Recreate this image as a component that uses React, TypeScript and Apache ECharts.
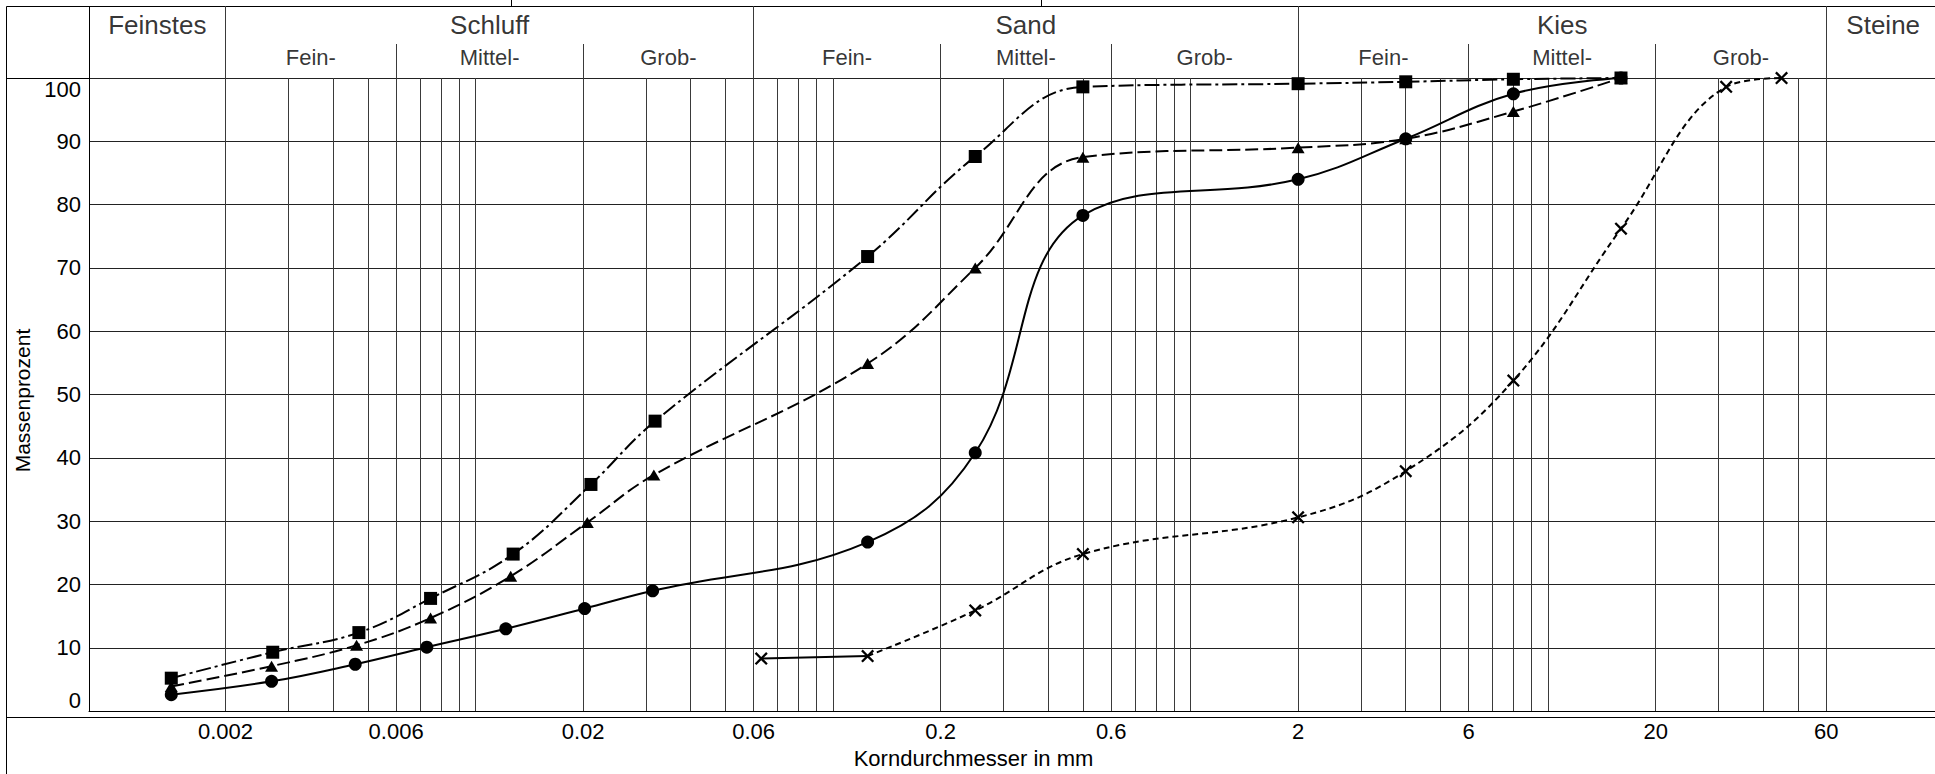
import React, { useEffect, useRef } from 'react';
import * as echarts from 'echarts';

const FONT = '"Liberation Sans", Arial, Helvetica, sans-serif';

// axis range (mm)
const X_MIN = 0.00083;
const X_MAX = 120.9;

// tick labels and grid lines
const labelTicks = [0.002, 0.006, 0.02, 0.06, 0.2, 0.6, 2, 6, 20, 60];
const gridTicks = [
  0.002, 0.003, 0.004, 0.005, 0.006, 0.007, 0.008, 0.009, 0.01,
  0.02, 0.03, 0.04, 0.05, 0.06, 0.07, 0.08, 0.09, 0.1,
  0.2, 0.3, 0.4, 0.5, 0.6, 0.7, 0.8, 0.9, 1,
  2, 3, 4, 5, 6, 7, 8, 9, 10,
  20, 30, 40, 50, 60,
];
const mainBounds = [0.00083, 0.002, 0.06, 2, 60, 125];
const mainNames = ['Feinstes', 'Schluff', 'Sand', 'Kies', 'Steine'];
const subBounds = [0.002, 0.006, 0.02, 0.06, 0.2, 0.6, 2, 6, 20, 60];
const subNames = ['Fein-', 'Mittel-', 'Grob-', 'Fein-', 'Mittel-', 'Grob-', 'Fein-', 'Mittel-', 'Grob-'];
const majorTicks = [0.002, 0.06, 2, 60];

// series (x in mm, y in %)
const circleX = [0.00141, 0.00269, 0.00461, 0.00731, 0.01216, 0.0202, 0.0313, 0.125, 0.25, 0.5, 2, 4, 8, 16];
const circleY = [2.6, 4.7, 7.4, 10.1, 13.0, 16.2, 19.0, 26.7, 40.8, 78.3, 84.0, 90.4, 97.5, 100];

const triangleX = [0.00141, 0.00269, 0.00465, 0.00749, 0.01255, 0.02055, 0.03155, 0.125, 0.25, 0.5, 2, 4, 8, 16];
const triangleY = [3.9, 7.1, 10.4, 14.7, 21.3, 29.8, 37.3, 54.9, 70.0, 87.5, 89.0, 90.4, 94.7, 100];

const squareX = [0.00141, 0.00271, 0.00472, 0.00749, 0.01275, 0.02104, 0.0318, 0.125, 0.25, 0.5, 2, 4, 8, 16];
const squareY = [5.2, 9.3, 12.4, 17.8, 24.8, 35.8, 45.8, 71.8, 87.6, 98.6, 99.1, 99.4, 99.8, 100];

const crossX = [0.063, 0.125, 0.25, 0.5, 2, 4, 8, 16, 31.5, 45];
const crossY = [8.3, 8.7, 15.9, 24.8, 30.6, 37.9, 52.2, 76.2, 98.6, 100];

const CROSS =
  'path://M1.5,0 L6,4.5 L10.5,0 L12,1.5 L7.5,6 L12,10.5 L10.5,12 L6,7.5 L1.5,12 L0,10.5 L4.5,6 L0,1.5 Z';

const fmt = (v: number) => String(Number(v.toPrecision(6)));
const geo = (a: number, b: number) => Math.sqrt(a * b);

function lineSeries(
  xs: number[],
  ys: number[],
  symbol: string,
  size: number | number[],
  dash: any,
  smooth: number
) {
  return {
    type: 'line',
    xAxisIndex: 0,
    yAxisIndex: 0,
    data: xs.map((x, i) => [x, ys[i]]),
    smooth,
    symbol,
    symbolSize: size,
    showAllSymbol: true,
    lineStyle: { color: '#000', width: 2, type: dash },
    itemStyle: { color: '#000', opacity: 1 },
    emphasis: { disabled: true },
    silent: true,
  };
}

export default function App() {
  const ref = useRef<HTMLDivElement>(null);
  useEffect(() => {
    if (!ref.current) return;
    const chart = echarts.init(ref.current, null, { renderer: 'svg' });
    const W = 1935;
    const vLine = { color: '#3a3a3a', width: 1 };
    const frame = { stroke: '#000', lineWidth: 1 };
    const option: any = {
      animation: false,
      textStyle: { fontFamily: FONT },
      grid: [
        { left: 89, top: 78, width: 1846, height: 639 },
        { left: 89, top: 6, width: 1846, height: 38 },
        { left: 89, top: 44, width: 1846, height: 34 },
      ],
      xAxis: [
        {
          gridIndex: 0,
          type: 'log',
          min: X_MIN,
          max: X_MAX,
          axisLine: { show: true, onZero: false, lineStyle: { color: '#000', width: 1 } },
          axisTick: { show: false, customValues: gridTicks },
          splitLine: { show: true, lineStyle: vLine },
          axisLabel: {
            customValues: labelTicks,
            formatter: (v: number) => fmt(v),
            fontSize: 22,
            color: '#000',
            margin: 9,
            fontFamily: FONT,
          },
          name: 'Korndurchmesser in mm',
          nameLocation: 'middle',
          nameGap: 31,
          nameTextStyle: { fontSize: 22, color: '#000', fontFamily: FONT, padding: [0, 77, 0, 0] },
        },
        {
          gridIndex: 1,
          type: 'log',
          min: X_MIN,
          max: X_MAX,
          axisLine: { show: false },
          axisTick: { show: false, customValues: majorTicks },
          axisLabel: { show: false },
          splitLine: { show: true, lineStyle: vLine },
        },
        {
          gridIndex: 2,
          type: 'log',
          min: X_MIN,
          max: X_MAX,
          axisLine: { show: false },
          axisTick: { show: false, customValues: subBounds },
          axisLabel: { show: false },
          splitLine: { show: true, lineStyle: vLine },
        },
      ],
      yAxis: [
        {
          gridIndex: 0,
          type: 'value',
          min: 0,
          max: 100,
          interval: 10,
          axisLine: { show: true, lineStyle: { color: '#000', width: 1 } },
          axisTick: { show: false },
          splitLine: { show: true, lineStyle: { color: '#222', width: 1 } },
          axisLabel: {
            fontSize: 22,
            color: '#000',
            margin: 8,
            fontFamily: FONT,
            verticalAlignMinLabel: 'bottom',
            verticalAlignMaxLabel: 'top',
          },
          name: 'Massenprozent',
          nameLocation: 'middle',
          nameRotate: 90,
          nameGap: 50,
          nameTextStyle: { fontSize: 21, color: '#000', fontFamily: FONT, padding: [0, 12, 0, 0] },
        },
        { gridIndex: 1, type: 'value', min: 0, max: 1, show: false },
        { gridIndex: 2, type: 'value', min: 0, max: 1, show: false },
      ],
      graphic: [
        { type: 'line', shape: { x1: 6.5, y1: 6.5, x2: W, y2: 6.5 }, style: frame, silent: true },
        { type: 'line', shape: { x1: 6.5, y1: 6.5, x2: 6.5, y2: 774 }, style: frame, silent: true },
        { type: 'line', shape: { x1: 6.5, y1: 78.5, x2: W, y2: 78.5 }, style: frame, silent: true },
        { type: 'line', shape: { x1: 6.5, y1: 717.5, x2: W, y2: 717.5 }, style: frame, silent: true },
        { type: 'line', shape: { x1: 89.5, y1: 6.5, x2: 89.5, y2: 78.5 }, style: frame, silent: true },
        { type: 'line', shape: { x1: 511.5, y1: 0, x2: 511.5, y2: 6.5 }, style: frame, silent: true },
        { type: 'line', shape: { x1: 1041.5, y1: 0, x2: 1041.5, y2: 6.5 }, style: frame, silent: true },
      ],
      series: [
        // header labels
        {
          type: 'scatter',
          xAxisIndex: 1,
          yAxisIndex: 1,
          symbolSize: 1,
          itemStyle: { color: 'rgba(0,0,0,0)' },
          silent: true,
          label: { show: true, position: 'inside', formatter: '{b}', fontSize: 26, color: '#000', fontFamily: FONT },
          data: mainNames.map((n, i) => ({ name: n, value: [geo(mainBounds[i], mainBounds[i + 1]), 0.49] })),
        },
        {
          type: 'scatter',
          xAxisIndex: 2,
          yAxisIndex: 2,
          symbolSize: 1,
          itemStyle: { color: 'rgba(0,0,0,0)' },
          silent: true,
          label: { show: true, position: 'inside', formatter: '{b}', fontSize: 22, color: '#000', fontFamily: FONT },
          data: subNames.map((n, i) => ({ name: n, value: [geo(subBounds[i], subBounds[i + 1]), 0.59] })),
        },
        // cross: solid first segment, short-dashed rest
        lineSeries(crossX.slice(0, 2), crossY.slice(0, 2), 'none', 0, 'solid', 0),
        lineSeries(crossX.slice(1), crossY.slice(1), CROSS, 13, [6, 4], 0.4),
        lineSeries(crossX.slice(0, 1), crossY.slice(0, 1), CROSS, 13, 'solid', 0),
        lineSeries(triangleX, triangleY, 'triangle', [13, 11], [13, 5], 0.4),
        lineSeries(circleX, circleY, 'circle', 13, 'solid', 0.4),
        lineSeries(squareX, squareY, 'rect', 13, [15, 4, 3, 4], 0.4),
      ],
    };
    chart.setOption(option);
    return () => chart.dispose();
  }, []);
  return (
    <div
      ref={ref}
      style={{ position: 'fixed', left: 0, top: 0, width: 1935, height: 774, background: '#fff' }}
    />
  );
}
